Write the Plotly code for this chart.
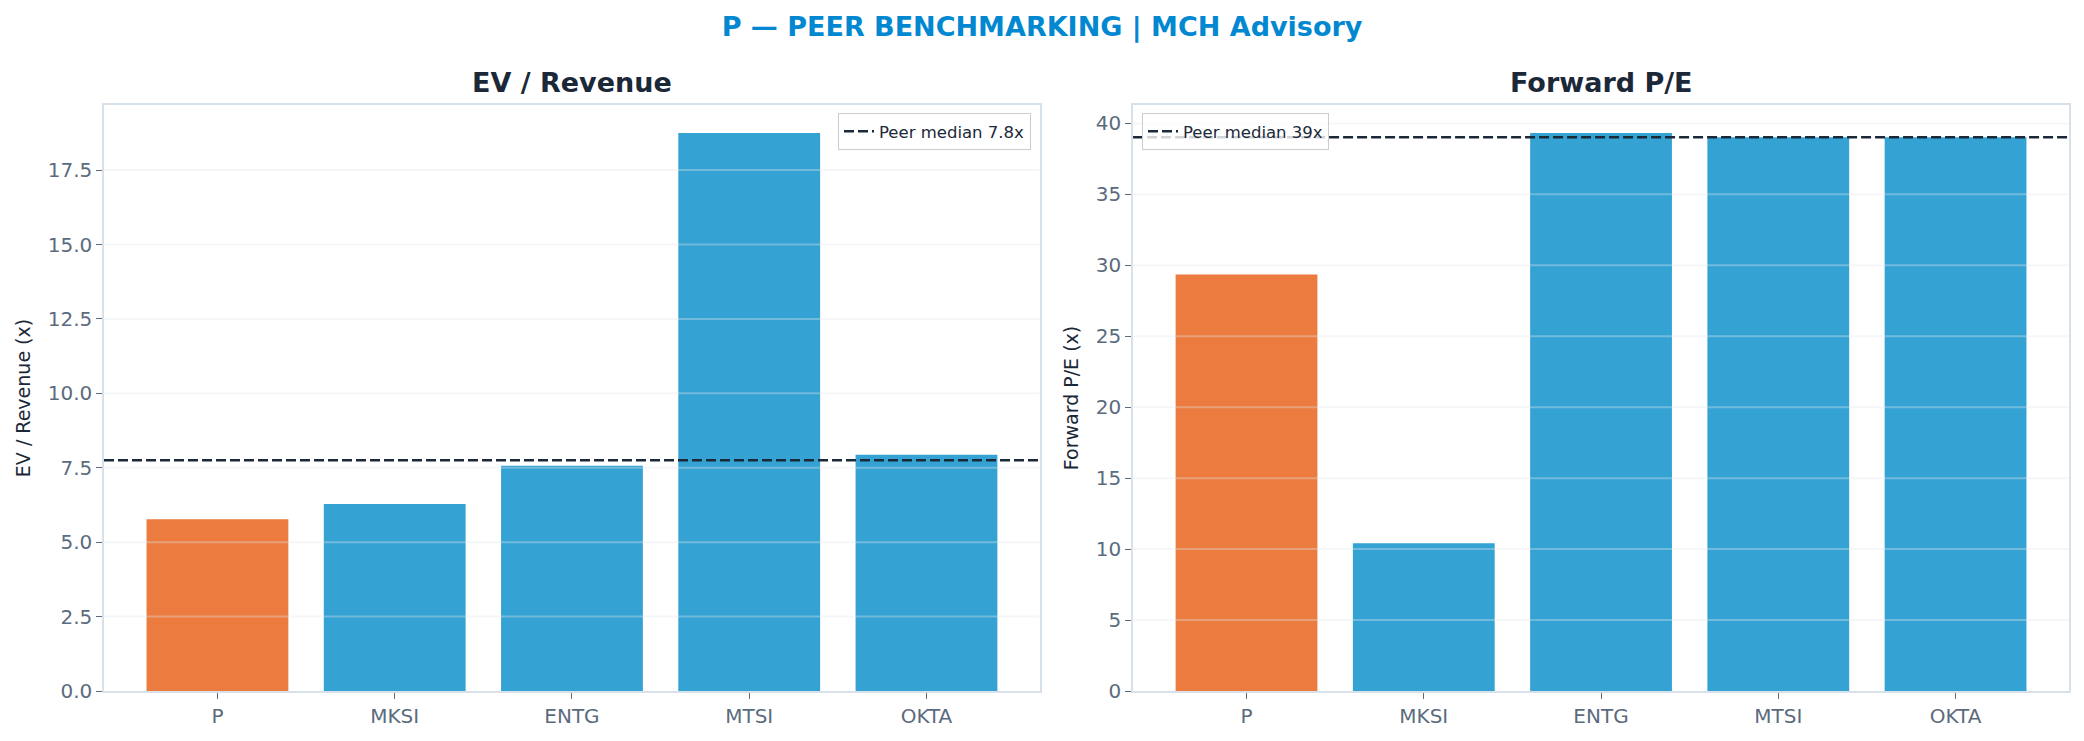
import numpy as np
import plotly.graph_objects as go
from plotly.subplots import make_subplots

tickers = ["P", "MKSI", "ENTG", "MTSI", "OKTA"]
ev_revenue = [5.77, 6.28, 7.57, 18.75, 7.94]
forward_pe = [29.35, 10.42, 39.33, 39.03, 39.03]
subject = "P"

ev_ticks = [0, 2.5, 5.0, 7.5, 10.0, 12.5, 15.0, 17.5]
pe_ticks = [0, 5, 10, 15, 20, 25, 30, 35, 40]

ORANGE = "#EC7B3F"
BLUE = "#34A3D4"
DARK = "#1B2838"
SLATE = "#5B6B7E"
SPINE = "#D8E0EA"
FONT = "DejaVu Sans"

ev_med = float(np.median(ev_revenue[1:]))
pe_med = float(np.median(forward_pe[1:]))

colors = [ORANGE if t == subject else BLUE for t in tickers]

fig = make_subplots(rows=1, cols=2, horizontal_spacing=0.0474)
fig.add_trace(go.Bar(x=tickers, y=ev_revenue, marker=dict(color=colors, line=dict(width=0)),
                     showlegend=False), row=1, col=1)
fig.add_trace(go.Bar(x=tickers, y=forward_pe, marker=dict(color=colors, line=dict(width=0)),
                     showlegend=False), row=1, col=2)

# grid lines drawn above bars (light, semi-transparent)
for t in ev_ticks[1:]:
    fig.add_shape(type="line", xref="x domain", yref="y", x0=0, x1=1, y0=t, y1=t,
                  line=dict(color="rgba(226,230,236,0.35)", width=2), layer="above")
for t in pe_ticks[1:]:
    fig.add_shape(type="line", xref="x2 domain", yref="y2", x0=0, x1=1, y0=t, y1=t,
                  line=dict(color="rgba(226,230,236,0.35)", width=2), layer="above")

# median lines
fig.add_shape(type="line", xref="x domain", yref="y", x0=0, x1=1, y0=ev_med, y1=ev_med,
              line=dict(color=DARK, width=2.5, dash="10px,4px"), layer="above",
              showlegend=True, name=f"Peer median {ev_med:.1f}x", legend="legend")
fig.add_shape(type="line", xref="x2 domain", yref="y2", x0=0, x1=1, y0=pe_med, y1=pe_med,
              line=dict(color=DARK, width=2.5, dash="10px,4px"), layer="above",
              showlegend=True, name=f"Peer median {pe_med:.0f}x", legend="legend2")

n = len(tickers)
xr = [-0.64, n - 1 + 0.64]
axis_common = dict(showline=True, mirror=True, linecolor=SPINE, linewidth=1.5,
                   ticks="outside", ticklen=6, tickwidth=1.2, tickcolor=SLATE,
                   tickfont=dict(family=FONT, size=20, color=SLATE), zeroline=False)

fig.update_xaxes(**axis_common, showgrid=False, range=xr)
fig.update_yaxes(**axis_common, showgrid=False)
fig.update_yaxes(row=1, col=1, range=[0, max(ev_revenue) * 1.05], tickvals=ev_ticks,
                 tickformat=".1f",
                 title=dict(text="EV / Revenue (x)", font=dict(family=FONT, size=19, color=DARK),
                            standoff=12))
fig.update_yaxes(row=1, col=2, range=[0, max(forward_pe) * 1.05], tickvals=pe_ticks,
                 title=dict(text="Forward P/E (x)", font=dict(family=FONT, size=19, color=DARK),
                            standoff=12))

W, H = 2084, 741
ml, mr, mt, mb = 104, 15, 105, 50
leg_font = dict(family=FONT, size=16.5, color=DARK)
fig.update_layout(
    width=W, height=H,
    margin=dict(l=ml, r=mr, t=mt, b=mb),
    paper_bgcolor="white", plot_bgcolor="white",
    bargap=0.2,
    font=dict(family=FONT, color=DARK),
    title=dict(text="<b>P — PEER BENCHMARKING | MCH Advisory</b>", x=0.5, xanchor="center",
               y=1 - 27 / H, yanchor="middle", font=dict(family=FONT, size=27, color="#0288D1")),
    legend=dict(x=(1031 - ml) / (W - ml - mr), y=(691 - 113) / (691 - 105), xanchor="right", yanchor="top",
                bgcolor="rgba(255,255,255,0.8)", bordercolor="#CCCCCC", borderwidth=1, font=leg_font),
    legend2=dict(x=(1142 - ml) / (W - ml - mr), y=(691 - 113) / (691 - 105), xanchor="left", yanchor="top",
                 bgcolor="rgba(255,255,255,0.8)", bordercolor="#CCCCCC", borderwidth=1, font=leg_font),
    annotations=[
        dict(text="<b>EV / Revenue</b>", xref="x domain", yref="y domain", x=0.5, y=1,
             xanchor="center", yanchor="bottom", yshift=5, showarrow=False,
             font=dict(family=FONT, size=27, color=DARK)),
        dict(text="<b>Forward P/E</b>", xref="x2 domain", yref="y2 domain", x=0.5, y=1,
             xanchor="center", yanchor="bottom", yshift=5, showarrow=False,
             font=dict(family=FONT, size=27, color=DARK)),
    ],
)

fig.write_html("out.html")
